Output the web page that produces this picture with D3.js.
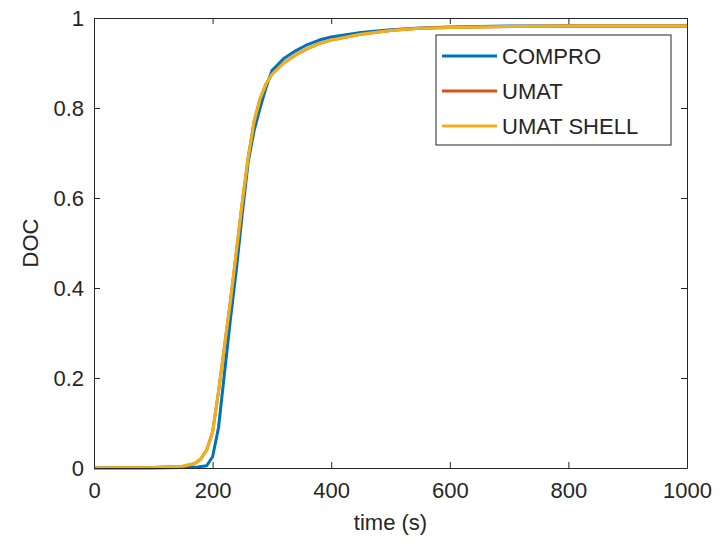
<!DOCTYPE html>
<html>
<head>
<meta charset="utf-8">
<script src="https://cdn.jsdelivr.net/npm/d3@7"></script>
<style>
  body { margin: 0; background: #fff; }
  text { font-family: "Liberation Sans", Arial, sans-serif; fill: #262626; }
</style>
</head>
<body>
<svg></svg>
<script>
var width = 720;
var height = 558;

// data
var timeCompro = [0, 100, 150, 175, 190, 200, 210, 220, 230, 240, 250, 260, 270, 280, 290, 300, 320, 340, 360, 380, 400, 450, 500, 550, 600, 700, 800, 900, 1000];
var compro     = [0, 0, 0.001, 0.002, 0.005, 0.025, 0.09, 0.21, 0.33, 0.44, 0.565, 0.68, 0.75, 0.80, 0.845, 0.883, 0.91, 0.927, 0.941, 0.951, 0.958, 0.968, 0.974, 0.978, 0.980, 0.982, 0.982, 0.982, 0.982];

var timeUmat = [0, 100, 150, 170, 180, 190, 200, 210, 220, 230, 240, 250, 260, 270, 280, 290, 300, 320, 340, 360, 380, 400, 450, 500, 550, 600, 700, 800, 900, 1000];
var umat      = [0, 0.001, 0.004, 0.01, 0.02, 0.04, 0.08, 0.17, 0.27, 0.37, 0.48, 0.59, 0.69, 0.77, 0.82, 0.853, 0.875, 0.90, 0.918, 0.932, 0.943, 0.951, 0.964, 0.972, 0.977, 0.979, 0.981, 0.982, 0.982, 0.982];
var umatShell = [0, 0.001, 0.004, 0.01, 0.02, 0.04, 0.08, 0.17, 0.27, 0.37, 0.48, 0.59, 0.69, 0.77, 0.82, 0.853, 0.875, 0.90, 0.918, 0.932, 0.943, 0.951, 0.964, 0.972, 0.977, 0.979, 0.981, 0.982, 0.982, 0.982];

var seriesNames = ["COMPRO", "UMAT", "UMAT SHELL"];
var colors = ["#0072BD", "#D95319", "#EDB120"];

var xTicks = [0, 200, 400, 600, 800, 1000];
var yTicks = [0, 0.2, 0.4, 0.6, 0.8, 1];

var plotLeft = 94, plotRight = 687, plotTop = 18, plotBottom = 468;

var svg = d3.select("svg")
  .attr("width", width)
  .attr("height", height);

var x = d3.scaleLinear().domain([0, 1000]).range([plotLeft, plotRight]);
var y = d3.scaleLinear().domain([0, 1]).range([plotBottom, plotTop]);

var series = [
  {name: seriesNames[0], t: timeCompro, v: compro},
  {name: seriesNames[1], t: timeUmat, v: umat},
  {name: seriesNames[2], t: timeUmat, v: umatShell}
];

var line = d3.line()
  .x(function(d) { return x(d[0]); })
  .y(function(d) { return y(d[1]); });

svg.append("g").selectAll("path")
  .data(series)
  .enter().append("path")
    .attr("d", function(s) { return line(s.t.map(function(t, i) { return [t, s.v[i]]; })); })
    .attr("fill", "none")
    .attr("stroke", function(s, i) { return colors[i]; })
    .attr("stroke-width", 3)
    .attr("stroke-linejoin", "round");

// axes, box style with inward ticks
var tl = 6;
var axisColor = "#262626";

var xAxis = svg.append("g")
  .attr("transform", "translate(0," + plotBottom + ")")
  .call(d3.axisBottom(x).tickValues(xTicks).tickSizeInner(-tl).tickSizeOuter(0).tickPadding(14)
    .tickFormat(d3.format("d")));
var yAxis = svg.append("g")
  .attr("transform", "translate(" + plotLeft + ",0)")
  .call(d3.axisLeft(y).tickValues(yTicks).tickSizeInner(-tl).tickSizeOuter(0).tickPadding(10)
    .tickFormat(function(d) { return d3.format("~g")(d); }));
svg.append("g")
  .attr("transform", "translate(0," + plotTop + ")")
  .call(d3.axisTop(x).tickValues(xTicks).tickSizeInner(-tl).tickSizeOuter(0).tickFormat(""));
svg.append("g")
  .attr("transform", "translate(" + plotRight + ",0)")
  .call(d3.axisRight(y).tickValues(yTicks).tickSizeInner(-tl).tickSizeOuter(0).tickFormat(""));

svg.selectAll(".domain, .tick line").attr("stroke", axisColor).attr("stroke-width", 1);
svg.selectAll(".tick text")
  .attr("fill", axisColor)
  .style("font-size", "22px")
  .style("font-family", "'Liberation Sans', Arial, sans-serif");

svg.append("text")
  .attr("x", (plotLeft + plotRight) / 2)
  .attr("y", 530)
  .attr("text-anchor", "middle")
  .style("font-size", "22px")
  .text("time (s)");

svg.append("text")
  .attr("transform", "translate(38," + (plotTop + plotBottom) / 2 + ") rotate(-90)")
  .attr("text-anchor", "middle")
  .style("font-size", "22px")
  .text("DOC");

// legend
var legend = svg.append("g").attr("transform", "translate(436,35)");
legend.append("rect")
  .attr("width", 235)
  .attr("height", 110)
  .attr("fill", "#fff")
  .attr("stroke", axisColor)
  .attr("stroke-width", 1);

var item = legend.selectAll(".item")
  .data(seriesNames)
  .enter().append("g")
    .attr("class", "item")
    .attr("transform", function(d, i) { return "translate(0," + (21 + 35 * i) + ")"; });

item.append("line")
  .attr("x1", 6).attr("x2", 61)
  .attr("stroke", function(d, i) { return colors[i]; })
  .attr("stroke-width", 3);

item.append("text")
  .attr("x", 66)
  .attr("dy", "0.36em")
  .style("font-size", "22px")
  .text(function(d) { return d; });
</script>
</body>
</html>
